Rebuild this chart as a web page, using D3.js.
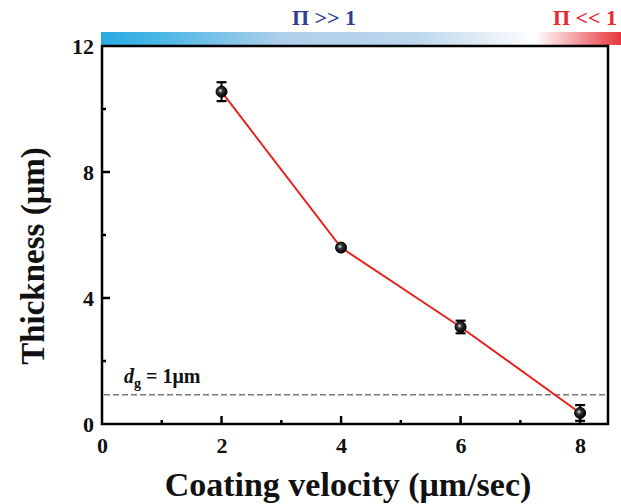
<!DOCTYPE html>
<html>
<head>
<meta charset="utf-8">
<script src="https://cdn.jsdelivr.net/npm/d3@7"></script>
<style>
  body { margin: 0; background: #fff; }
  svg { display: block; font-family: "Liberation Serif", "Times New Roman", serif; }
</style>
</head>
<body>
<div class="main"></div>
<script>
////Data
const velocity = [2, 4, 6, 8];
const thickness = [10.55, 5.6, 3.08, 0.35];
const thicknessErr = [0.3, 0.08, 0.2, 0.25];
const xTicks = [0, 2, 4, 6, 8];
const yTicks = [0, 4, 8, 12];
const gapLevel = 0.93;

////Global Variables
const width = 621;
const height = 504;
const margin = { left: 102, right: 12, top: 46, bottom: 80 };
const svg = d3.select('.main').append('svg')
  .attr('width', width)
  .attr('height', height);

const xScale = d3.scaleLinear().domain([0, 8.5]).range([margin.left, 610]);
const yScale = d3.scaleLinear().domain([0, 12]).range([424, margin.top]);

////Gradient bar on top
const defs = svg.append('defs');
const grad = defs.append('linearGradient').attr('id', 'pi-grad');
[[0, '#29abe2'], [0.12, '#4cb8e6'], [0.35, '#b0cfea'], [0.6, '#bcd6ec'], [0.8, '#f4f8fc'], [0.835, '#ffffff'], [0.88, '#f7c9cb'], [1, '#e8343c']]
  .forEach(s => grad.append('stop').attr('offset', s[0]).attr('stop-color', s[1]));
svg.append('rect')
  .attr('x', margin.left - 1).attr('y', 32)
  .attr('width', width - margin.left + 1).attr('height', 13)
  .attr('fill', 'url(#pi-grad)');

svg.append('text').attr('x', 324).attr('y', 25).attr('text-anchor', 'middle')
  .attr('font-size', 22).attr('font-weight', 'bold').attr('fill', '#2e3f8f')
  .text('\u03A0 >> 1');
svg.append('text').attr('x', 585).attr('y', 25).attr('text-anchor', 'middle')
  .attr('font-size', 22).attr('font-weight', 'bold').attr('fill', '#e8282e')
  .text('\u03A0 << 1');

////Axes
const xAxis = d3.axisBottom(xScale).tickValues(xTicks).tickSize(0).tickPadding(13).tickFormat(d3.format('d'));
const yAxis = d3.axisLeft(yScale).tickValues(yTicks).tickSize(0).tickPadding(8).tickFormat(d3.format('d'));

const gx = svg.append('g').attr('transform', `translate(0, 424)`).call(xAxis);
const gy = svg.append('g').attr('transform', `translate(${margin.left}, 0)`).call(yAxis);
[gx, gy].forEach(g => {
  g.select('.domain').remove();
  g.selectAll('text').attr('font-size', 22).attr('font-weight', 'bold')
    .attr('font-family', '"Liberation Serif", serif').attr('fill', '#111');
});

// inward ticks
const tickG = svg.append('g').attr('stroke', '#000');
d3.range(1, 9).forEach(v => {
  tickG.append('line').attr('x1', xScale(v)).attr('x2', xScale(v))
    .attr('y1', 424).attr('y2', 424 - (v % 2 === 0 ? 8 : 4)).attr('stroke-width', 2.5);
});
d3.range(2, 12, 2).forEach(v => {
  tickG.append('line').attr('y1', yScale(v)).attr('y2', yScale(v))
    .attr('x1', margin.left).attr('x2', margin.left + (v % 4 === 0 ? 8 : 4)).attr('stroke-width', 2.5);
});

// frame
svg.append('rect')
  .attr('x', margin.left).attr('y', yScale(12))
  .attr('width', 608 - margin.left).attr('height', 424 - yScale(12))
  .attr('fill', 'none').attr('stroke', '#000').attr('stroke-width', 2.5);

////Dashed gap line
svg.append('line')
  .attr('x1', margin.left + 2).attr('x2', 606)
  .attr('y1', yScale(gapLevel)).attr('y2', yScale(gapLevel))
  .attr('stroke', '#777').attr('stroke-width', 1.6).attr('stroke-dasharray', '6,3');

const lbl = svg.append('text').attr('x', 124).attr('y', yScale(gapLevel) - 12)
  .attr('font-size', 20).attr('font-weight', 'bold').attr('fill', '#111');
lbl.append('tspan').attr('font-style', 'italic').text('d');
lbl.append('tspan').attr('font-size', 14).attr('dy', 5).text('g');
lbl.append('tspan').attr('dy', -5).text(' = 1\u03BCm');

////Line
const data = velocity.map((v, i) => ({ x: v, y: thickness[i], e: thicknessErr[i] }));
svg.append('path').datum(data)
  .attr('fill', 'none').attr('stroke', '#e8231f').attr('stroke-width', 2)
  .attr('d', d3.line().x(d => xScale(d.x)).y(d => yScale(d.y)));

////Error bars and markers
const grad2 = defs.append('radialGradient').attr('id', 'ball').attr('cx', '40%').attr('cy', '40%').attr('r', '60%');
grad2.append('stop').attr('offset', 0).attr('stop-color', '#eee');
grad2.append('stop').attr('offset', 0.35).attr('stop-color', '#333');
grad2.append('stop').attr('offset', 1).attr('stop-color', '#000');

const pts = svg.append('g').selectAll('g').data(data).enter().append('g');
pts.append('line')
  .attr('x1', d => xScale(d.x)).attr('x2', d => xScale(d.x))
  .attr('y1', d => yScale(d.y + d.e)).attr('y2', d => yScale(d.y - d.e))
  .attr('stroke', '#000').attr('stroke-width', 2);
['+', '-'].forEach(s => {
  pts.append('line')
    .attr('x1', d => xScale(d.x) - 5).attr('x2', d => xScale(d.x) + 5)
    .attr('y1', d => yScale(s === '+' ? d.y + d.e : d.y - d.e))
    .attr('y2', d => yScale(s === '+' ? d.y + d.e : d.y - d.e))
    .attr('stroke', '#000').attr('stroke-width', 2.2);
});
pts.append('circle')
  .attr('cx', d => xScale(d.x)).attr('cy', d => yScale(d.y))
  .attr('r', 5.5).attr('fill', 'url(#ball)').attr('stroke', '#000').attr('stroke-width', 1);

////Axis titles
svg.append('text').attr('x', 348).attr('y', 496).attr('text-anchor', 'middle')
  .attr('font-size', 34).attr('font-weight', 'bold').attr('fill', '#111')
  .text('Coating velocity (\u03BCm/sec)');
svg.append('text').attr('transform', `translate(44, 256) rotate(-90)`).attr('text-anchor', 'middle')
  .attr('font-size', 33).attr('font-weight', 'bold').attr('fill', '#111')
  .text('Thickness (\u03BCm)');
</script>
</body>
</html>
